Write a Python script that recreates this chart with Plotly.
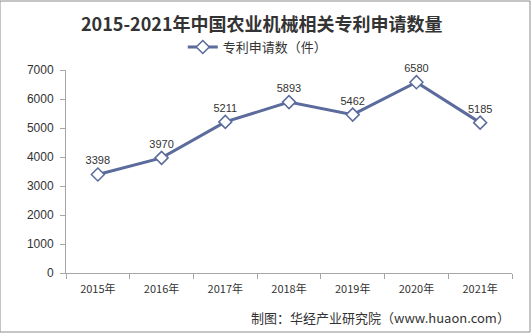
import plotly.graph_objects as go

years = ["2015年", "2016年", "2017年", "2018年", "2019年", "2020年", "2021年"]
values = [3398, 3970, 5211, 5893, 5462, 6580, 5185]
series_name = "专利申请数（件）"
title_text = "2015-2021年中国农业机械相关专利申请数量"
source_text = "制图：华经产业研究院（www.huaon.com）"

line_color = "#5b6b9c"
font_family = "Noto Sans CJK SC, Microsoft YaHei, sans-serif"

fig = go.Figure()
fig.add_trace(go.Scatter(
    x=years, y=values, mode="lines+markers+text",
    name=series_name,
    line=dict(color=line_color, width=3),
    marker=dict(symbol="diamond", size=10, color="white",
                line=dict(color=line_color, width=1.5)),
    text=[str(v) for v in values],
    textposition="top center",
    textfont=dict(size=11, color="#333333", family="Liberation Sans, Arial"),
    cliponaxis=False,
))

fig.update_layout(
    width=531, height=333,
    margin=dict(l=66, r=19, t=70, b=60),
    paper_bgcolor="white", plot_bgcolor="white",
    font=dict(family=font_family, color="#333333"),
    title=dict(text="<b>" + title_text + "</b>", x=0.493, xanchor="center",
               y=0.925, yanchor="middle",
               font=dict(size=18, color="#333333", family=font_family)),
    showlegend=True,
    legend=dict(orientation="h", x=0.43, xanchor="center", y=1.113, yanchor="middle",
                font=dict(size=13, color="#333333", family=font_family),
                bgcolor="rgba(0,0,0,0)", itemwidth=30),
    xaxis=dict(type="category", range=[-0.5, 6.5], showline=True,
               linecolor="#a6a6a6", linewidth=1,
               ticks="outside", tickson="boundaries", ticklen=5, tickcolor="#a6a6a6",
               showgrid=False, automargin=False, ticklabelstandoff=6,
               tickfont=dict(size=11, color="#333333", family=font_family)),
    yaxis=dict(range=[0, 7000], dtick=1000, showline=True, linecolor="#a6a6a6",
               linewidth=1, ticks="outside", ticklen=5, tickcolor="#a6a6a6",
               showgrid=False, zeroline=False, automargin=False, ticklabelstandoff=4,
               tickfont=dict(size=12, color="#333333", family="Liberation Sans, Arial")),
    shapes=[dict(type="rect", xref="paper", yref="paper", x0=-66/446, x1=1+18/446,
                 y0=-59/203, y1=1+69/203,
                 line=dict(color="#8c8c8c", width=1))],
    annotations=[dict(text=source_text, xref="paper", yref="paper",
                      x=1.0, xanchor="right", y=-0.22, yanchor="middle",
                      showarrow=False,
                      font=dict(size=13, color="#333333", family=font_family))],
)

fig.write_html("out.html")
